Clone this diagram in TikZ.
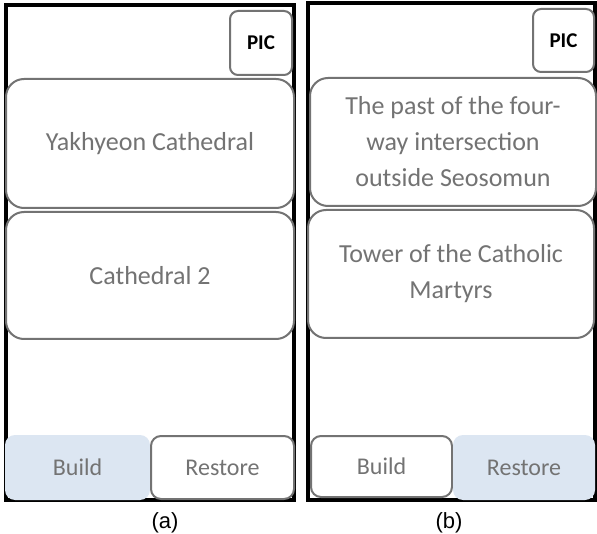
\documentclass[tikz,border=0pt]{standalone}
\usepackage{fontspec}
\setmainfont{Carlito}
\newfontfamily\capfont{Liberation Sans}
\usepackage{tikz}
\usetikzlibrary{positioning}
\definecolor{btnblue}{RGB}{220,230,242}
\definecolor{boxgray}{RGB}{115,115,115}
\definecolor{txtgray}{RGB}{115,115,115}
\tikzset{
  phone/.style={rectangle, draw=black, line width=4pt, fill=white,
                inner sep=0pt},
  picbox/.style={rectangle, draw=boxgray, line width=2pt, fill=white,
                 rounded corners=8pt, inner sep=0pt,
                 font=\fontsize{21}{25}\selectfont\bfseries},
  itembox/.style={rectangle, draw=boxgray, line width=2pt, fill=white,
                  rounded corners=18pt, inner sep=0pt, align=center,
                  text=txtgray, font=\fontsize{26}{36}\selectfont},
  btnW/.style={rectangle, draw=boxgray, line width=2pt, fill=white,
               rounded corners=10pt, inner sep=0pt,
               text=txtgray, font=\fontsize{24}{28}\selectfont},
  btnB/.style={rectangle, fill=btnblue, rounded corners=10pt,
               inner sep=0pt, text=txtgray,
               font=\fontsize{24}{28}\selectfont},
  caption/.style={font=\capfont\fontsize{22}{26}\selectfont},
}
\begin{document}
\begin{tikzpicture}[x=1pt, y=-1pt]
    \useasboundingbox (0,0) rectangle (597,534);
    %% panel (a)
    \node[phone, minimum width=288pt, minimum height=495pt] (frameA) at (150,252.5) {};
    \node[picbox, minimum width=62pt, minimum height=64pt] (picA) at (261,43) {PIC};
    \node[itembox, minimum width=288pt, minimum height=129pt] (itemA1) at (150,143.5)
      {Yakhyeon Cathedral};
    \node[itembox, minimum width=288pt, minimum height=127pt] (itemA2) at (150,275.5)
      {Cathedral 2};
    \node[btnB, minimum width=145pt, minimum height=65pt] (buildA) at (77.5,467.5) {Build};
    \node[btnW, minimum width=143pt, minimum height=63pt] (restoreA) at (222.5,467.5) {Restore};
    \node[caption] (capA) at (165,523) {(a)};
    %% panel (b)
    \node[phone, minimum width=287pt, minimum height=497pt] (frameB) at (451.5,251.5) {};
    \node[picbox, minimum width=61pt, minimum height=63pt] (picB) at (563.5,40.5) {PIC};
    \node[itembox, minimum width=286pt, minimum height=128pt] (itemB1) at (453,142)
      {The past of the four-\\way intersection\\outside Seosomun};
    \node[itembox, minimum width=286pt, minimum height=128pt] (itemB2) at (451,274)
      {Tower of the Catholic\\Martyrs};
    \node[btnW, minimum width=141pt, minimum height=61pt] (buildB) at (381.5,466.5) {Build};
    \node[btnB, minimum width=142pt, minimum height=65pt] (restoreB) at (524,467.5) {Restore};
    \node[caption] (capB) at (449,523) {(b)};
  \end{tikzpicture}
\end{document}
